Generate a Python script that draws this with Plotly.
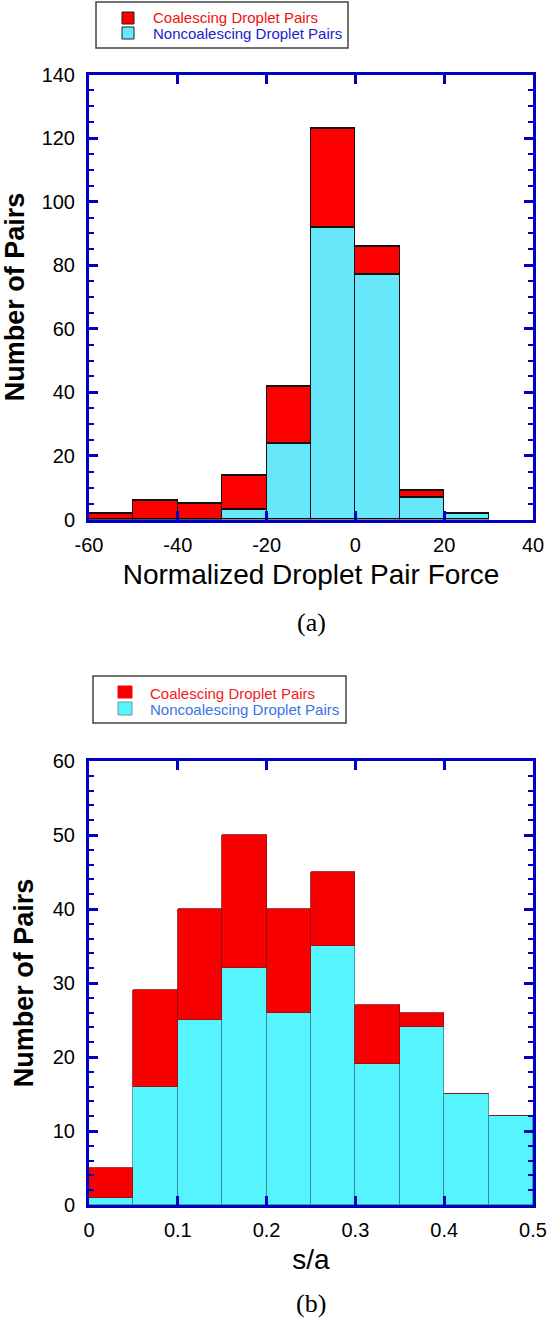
import plotly.graph_objects as go

# ---------------- data ----------------
# Panel (a): Normalized droplet pair force histogram (bins of width 10)
force_bin_left = [-60, -50, -40, -30, -20, -10, 0, 10, 20]
force_bin_width = 10
force_noncoalescing = [0, 0, 0, 3, 24, 92, 77, 7, 2]
force_coalescing = [2, 6, 5, 11, 18, 31, 9, 2, 0]
force_tickvals = [-60, -40, -20, 0, 20, 40]
force_ticktext = ["-60", "-40", "-20", "0", "20", "40"]

# Panel (b): s/a histogram (bins of width 0.05)
sa_bin_left = [0.0, 0.05, 0.10, 0.15, 0.20, 0.25, 0.30, 0.35, 0.40, 0.45]
sa_bin_width = 0.05
sa_noncoalescing = [1, 16, 25, 32, 26, 35, 19, 24, 15, 12]
sa_coalescing = [4, 13, 15, 18, 14, 10, 8, 2, 0, 0]

labels = ["Coalescing Droplet Pairs", "Noncoalescing Droplet Pairs"]
x_title_a = "Normalized Droplet Pair Force"
x_title_b = "s/a"
y_title = "Number of Pairs"

# ---------------- styles ----------------
W, H = 550, 1320
BLUE = "#0000C4"
RED_A = "#FF0000"
CYAN_A = "#66E8FA"
RED_B = "#F80000"
CYAN_B = "#55F4FF"
TXT_RED_A, TXT_BLUE_A = "#EE1111", "#2222C8"
TXT_RED_B, TXT_BLUE_B = "#F02020", "#3A72E4"


def px_x(p):
    return p / W


def px_y(p):
    return 1 - p / H


force_centers = [l + force_bin_width / 2 for l in force_bin_left]
sa_centers = [l + sa_bin_width / 2 for l in sa_bin_left]

fig = go.Figure()

# panel (a)
fig.add_trace(go.Bar(
    x=force_centers, y=force_noncoalescing, width=force_bin_width,
    marker=dict(color=CYAN_A, line=dict(color="#111111", width=1.3)),
    name=labels[1], xaxis="x", yaxis="y"))
fig.add_trace(go.Bar(
    x=force_centers, y=force_coalescing, width=force_bin_width,
    marker=dict(color=RED_A, line=dict(color="#111111", width=1.3)),
    name=labels[0], xaxis="x", yaxis="y"))

# panel (b)
fig.add_trace(go.Bar(
    x=sa_centers, y=sa_noncoalescing, width=sa_bin_width,
    marker=dict(color=CYAN_B, line=dict(color="#2C8E94", width=0.8)),
    name=labels[1], xaxis="x2", yaxis="y2"))
fig.add_trace(go.Bar(
    x=sa_centers, y=sa_coalescing, width=sa_bin_width,
    marker=dict(color=RED_B, line=dict(color="#8A1010", width=0.8)),
    name=labels[0], xaxis="x2", yaxis="y2"))

tickfont = dict(family="Arial", size=20, color="black")
common = dict(
    showline=True, linecolor=BLUE, linewidth=3, mirror="allticks",
    ticks="inside", tickcolor=BLUE, tickwidth=2.5, ticklen=9,
    showgrid=False, zeroline=False, tickfont=tickfont, automargin=False,
)
minor_style = dict(ticks="inside", tickcolor=BLUE, tickwidth=2, ticklen=5, showgrid=False)

x_dom = [px_x(89), px_x(533)]
ya_dom = [px_y(519.5), px_y(74.5)]
yb_dom = [px_y(1205), px_y(761)]

# ---------- legends (box, swatches, coloured labels) ----------
shapes = []
annotations = []


def add_legend(box, sw_x, sw_rows, text_x, text_rows, txt_colors, sw_colors, sw_lines):
    x0, y0, x1, y1 = box
    shapes.append(dict(type="rect", xref="paper", yref="paper",
                       x0=px_x(x0), x1=px_x(x1), y0=px_y(y1), y1=px_y(y0),
                       line=dict(color="#444444", width=1.5), fillcolor="white", layer="above"))
    for (ya, yb), fc, lc in zip(sw_rows, sw_colors, sw_lines):
        shapes.append(dict(type="rect", xref="paper", yref="paper",
                           x0=px_x(sw_x[0]), x1=px_x(sw_x[1]), y0=px_y(yb), y1=px_y(ya),
                           line=dict(color=lc, width=1), fillcolor=fc, layer="above"))
    for lab, ty, tc in zip(labels, text_rows, txt_colors):
        annotations.append(dict(text=lab, x=px_x(text_x), y=px_y(ty), xref="paper", yref="paper",
                                showarrow=False, xanchor="left", yanchor="middle",
                                font=dict(family="Arial", size=15, color=tc)))


add_legend(box=(96, 2, 348, 48), sw_x=(122, 134), sw_rows=[(12, 24), (27, 39)],
           text_x=151, text_rows=[17, 33], txt_colors=[TXT_RED_A, TXT_BLUE_A],
           sw_colors=[RED_A, CYAN_A], sw_lines=["#222222", "#222222"])
add_legend(box=(93, 676, 346, 723), sw_x=(118, 132), sw_rows=[(686, 698), (702, 715)],
           text_x=148, text_rows=[693, 709], txt_colors=[TXT_RED_B, TXT_BLUE_B],
           sw_colors=[RED_B, CYAN_B], sw_lines=[RED_B, "#6A9AA0"])

annotations += [
    dict(text="(a)", x=(x_dom[0] + x_dom[1]) / 2, y=px_y(622), xref="paper", yref="paper",
         showarrow=False, xanchor="center", yanchor="middle",
         font=dict(family="Liberation Serif", size=26, color="black")),
    dict(text="(b)", x=(x_dom[0] + x_dom[1]) / 2, y=px_y(1303), xref="paper", yref="paper",
         showarrow=False, xanchor="center", yanchor="middle",
         font=dict(family="Liberation Serif", size=26, color="black")),
]

fig.update_layout(
    width=W, height=H,
    margin=dict(l=0, r=0, t=0, b=0, autoexpand=False),
    paper_bgcolor="white", plot_bgcolor="white",
    barmode="stack", bargap=0,
    showlegend=False,
    xaxis=dict(domain=x_dom, anchor="y", range=[-60, 40], tickmode="array",
               tickvals=force_tickvals, ticktext=force_ticktext,
               title=dict(text=x_title_a, font=dict(family="Arial", size=28, color="black"), standoff=10),
               ticklabelstandoff=5, **common),
    yaxis=dict(domain=ya_dom, anchor="x", range=[0, 140], tickmode="linear", tick0=0, dtick=20,
               minor=dict(dtick=5, **minor_style),
               title=dict(text=f"<b>{y_title}</b>", font=dict(family="Arial", size=27, color="black"), standoff=12),
               ticklabelstandoff=7, **common),
    xaxis2=dict(domain=x_dom, anchor="y2", range=[0, 0.5], tickmode="linear", tick0=0, dtick=0.1,
                title=dict(text=x_title_b, font=dict(family="Arial", size=28, color="black"), standoff=10),
                ticklabelstandoff=5, **common),
    yaxis2=dict(domain=yb_dom, anchor="x2", range=[0, 60], tickmode="linear", tick0=0, dtick=10,
                minor=dict(dtick=2, **minor_style),
                title=dict(text=f"<b>{y_title}</b>", font=dict(family="Arial", size=27, color="black"), standoff=12),
                ticklabelstandoff=7, **common),
    shapes=shapes,
    annotations=annotations,
)

# remove the browser's default body margin so the 550x1320 figure fills the window exactly
fig.write_html("out.html", config={"displayModeBar": False},
               post_script="document.body.style.margin='0';")
